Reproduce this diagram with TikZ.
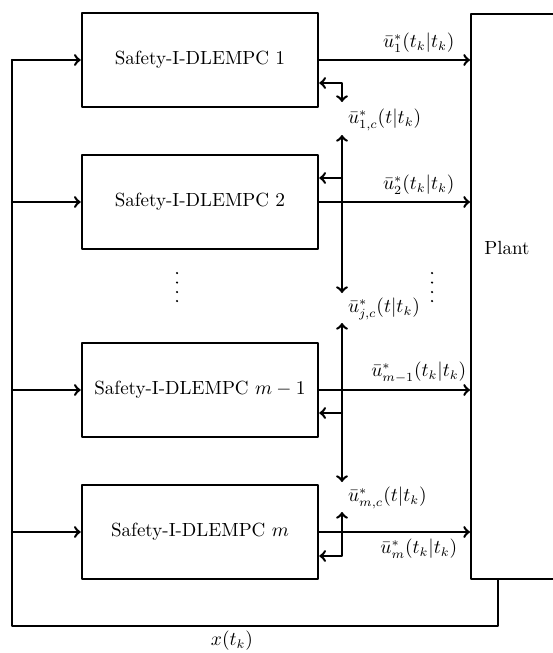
\documentclass[tikz,border=0pt]{standalone}
\usepackage{amsmath}
\usepackage{amssymb}
\usepackage{tikz}
\usetikzlibrary{calc}

\begin{document}
\begin{tikzpicture}[x=0.5625pt, y=-0.5625pt, line width=1.4pt, line cap=round, line join=round,
    font=\fontsize{10.7}{13}\selectfont,
    mpcbox/.style={draw, line cap=butt, minimum width=132.8pt, minimum height=52.9pt, inner sep=0pt},
    sig/.style={->}]
    \useasboundingbox (0,0) rectangle (553,653);

    % --- controllers ---
    \foreach \i/\y/\lbl in {1/60/$1$, 2/202/$2$, 3/390/$m-1$, 4/532/$m$}{
      \node[mpcbox] (mpc\i) at (200,\y) {Safety-I-DLEMPC \lbl};
    }

    % --- plant ---
    \node[draw, line cap=butt, anchor=north west, minimum width=60pt, minimum height=317.8pt, inner sep=0pt] (plant) at (470,13) {};
    \node (plantlbl) at (507,248) {Plant};

    % inputs x(t_k)
    \coordinate (fbL) at (12,626);
    \coordinate (fbR) at (498,626);
    \draw (fbR |- plant.south) -- (fbR) -- (fbL) -- (12,60);
    \foreach \i in {1,...,4}{
      \draw[sig] (fbL |- mpc\i.west) -- (mpc\i.west);
    }
    \node (xlbl) at (232,641) {$x(t_k)$};

    % outputs to plant
    \draw[sig] (mpc1.east) -- (mpc1.east -| plant.west) node[above, pos=0.66] {$\bar{u}_1^*(t_k|t_k)$};
    \draw[sig] (mpc2.east) -- (mpc2.east -| plant.west) node[above, pos=0.66] {$\bar{u}_2^*(t_k|t_k)$};
    \draw[sig] (mpc3.east) -- (mpc3.east -| plant.west) node[above, pos=0.66] {$\bar{u}_{m-1}^*(t_k|t_k)$};
    \draw[sig] (mpc4.east) -- (mpc4.east -| plant.west) node[below, pos=0.66] {$\bar{u}_m^*(t_k|t_k)$};

    % --- communication bus ---
    \coordinate (b1) at (342,83);
    \coordinate (b1d) at (342,102);
    \coordinate (b2u) at (342,135);
    \coordinate (b2) at (342,178);
    \coordinate (b2d) at (342,293);
    \coordinate (b3u) at (342,323);
    \coordinate (b3) at (342,413);
    \coordinate (b3d) at (342,482);
    \coordinate (b4u) at (342,512);
    \coordinate (b4) at (342,556);

    \draw[<->] (b1 -| mpc1.east) -- (b1) -- (b1d);
    \draw[<->] (b2u) -- (b2d);
    \draw[sig] (b2) -- (b2 -| mpc2.east);
    \draw[<->] (b3u) -- (b3d);
    \draw[sig] (b3) -- (b3 -| mpc3.east);
    \draw[<->] (b4u) -- (b4) -- (b4 -| mpc4.east);

    \node[anchor=west, inner sep=1pt] (c1) at (345,120) {$\bar{u}_{1,c}^*(t|t_k)$};
    \node[anchor=west, inner sep=1pt] (cj) at (345,309) {$\bar{u}_{j,c}^*(t|t_k)$};
    \node[anchor=west, inner sep=1pt] (cm) at (345,498) {$\bar{u}_{m,c}^*(t|t_k)$};

    % vertical dots
    \foreach \x in {177,432}{
      \foreach \y in {273,282.5,292,301}{
        \fill (\x,\y) circle (0.7pt);
      }
    }
\end{tikzpicture}
\end{document}
